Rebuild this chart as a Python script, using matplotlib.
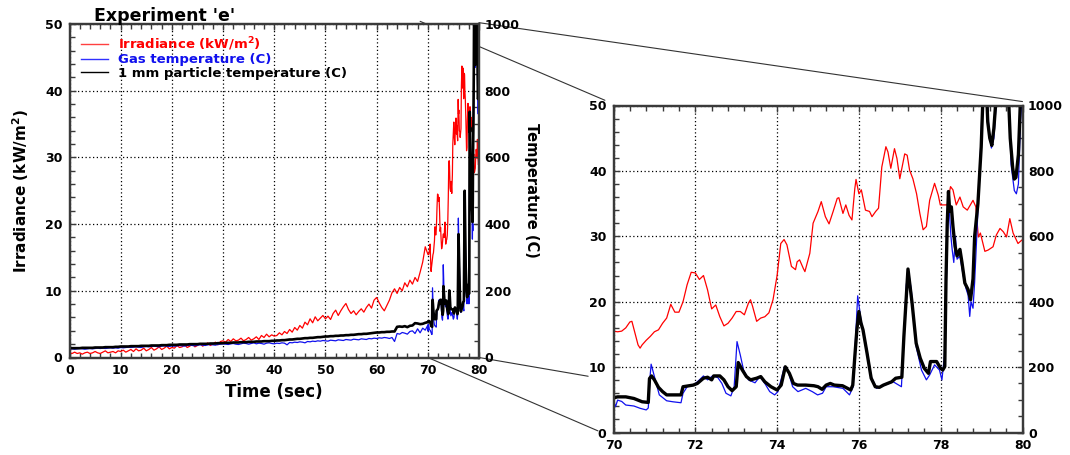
import numpy as np
import matplotlib
matplotlib.use("Agg")
import matplotlib.pyplot as plt
from matplotlib.lines import Line2D
from matplotlib.patches import ConnectionPatch
from matplotlib.ticker import MultipleLocator

plt.rcParams['font.family'] = ['DejaVu Sans']
plt.rcParams['font.weight'] = 'bold'
plt.rcParams['mathtext.default'] = 'bf'

# ---- coarse record, 0-70 s sampled every 0.5 s ----
t_coarse = np.arange(0, 70.01, 0.5)
irr_coarse = [0.7, 0.6, 0.8, 0.6, 0.7, 0.5, 0.7, 0.8, 0.6, 0.7, 0.9, 0.7, 0.6, 0.8, 1.0, 0.7, 0.8, 0.9, 0.7, 1.0, 0.9,
              1.1, 0.8, 1.0, 1.2, 0.9, 1.3, 1.0, 1.1, 1.4, 1.0, 1.2, 1.5, 1.1, 1.3, 1.6, 1.2, 1.4, 1.7, 1.3, 1.5,
              1.4, 1.8, 1.5, 1.6, 1.9, 1.5, 1.7, 2.0, 1.6, 1.8, 2.1, 1.7, 1.9, 2.2, 1.8, 2.0, 2.3, 1.9, 2.4, 2.5,
              2.3, 2.7, 2.4, 2.8, 2.5, 2.6, 2.9, 2.5, 2.7, 3.0, 2.6, 2.8, 3.1, 2.7, 3.3, 3.0, 3.5, 3.1, 3.4, 3.2,
              3.3, 3.7, 3.4, 3.9, 3.6, 4.2, 3.8, 4.5, 4.1, 4.8, 4.4, 5.3, 4.9, 5.8, 5.2, 6.1, 5.5, 5.9, 6.3, 5.8,
              6.2, 5.7, 6.6, 7.1, 6.3, 7.0, 7.6, 8.1, 7.2, 6.6, 7.0, 6.4, 6.9, 7.3, 6.8, 7.5, 8.0, 7.4, 8.6, 9.0,
              8.2, 7.5, 7.0, 7.8, 8.6, 9.7, 10.3, 9.6, 10.5, 10.0, 11.2, 10.6, 11.6, 11.0, 12.0, 11.4, 12.8, 14.3, 16.6, 15.5]
gas_coarse = [25, 26, 25, 26, 27, 26, 25, 26, 27, 26, 27, 28, 27, 28, 27, 28, 29, 28, 29, 28, 30,
              29, 30, 31, 30, 31, 32, 31, 30, 32, 33, 32, 33, 34, 33, 32, 34, 35, 34, 33, 35,
              34, 35, 36, 35, 34, 36, 37, 36, 35, 37, 38, 37, 36, 38, 39, 38, 37, 39, 40, 41,
              40, 39, 41, 42, 40, 39, 41, 43, 42, 40, 42, 44, 41, 43, 42, 40, 43, 44, 42, 41,
              43, 42, 44, 43, 38, 45, 44, 46, 45, 47, 46, 44, 48, 47, 49, 48, 50, 49, 51, 50,
              49, 52, 51, 50, 53, 52, 51, 54, 53, 52, 55, 54, 53, 56, 55, 54, 57, 56, 58, 57,
              59, 58, 60, 59, 57, 60, 48, 72, 70, 75, 73, 70, 78, 80, 72, 86, 74, 88, 82, 97]
part_coarse = [28, 28, 28, 28, 28, 29, 29, 29, 29, 29, 30, 30, 30, 30, 31, 31, 31, 31, 32, 32, 33,
               33, 33, 33, 34, 34, 34, 34, 35, 35, 35, 35, 36, 36, 36, 36, 37, 37, 37, 38, 38,
               38, 38, 39, 39, 39, 39, 40, 40, 40, 40, 41, 41, 41, 41, 42, 42, 42, 43, 43, 43,
               44, 44, 44, 45, 45, 45, 46, 46, 46, 47, 47, 47, 48, 48, 48, 49, 49, 49, 50, 50,
               51, 51, 52, 52, 53, 54, 54, 55, 56, 56, 57, 58, 58, 59, 59, 60, 61, 61, 62, 63,
               63, 64, 64, 65, 65, 66, 66, 67, 67, 68, 68, 69, 70, 70, 71, 71, 72, 73, 74, 75,
               75, 76, 76, 77, 77, 78, 78, 92, 93, 92, 94, 91, 95, 96, 103, 102, 100, 101, 104, 106]

# ---- fine record, 70-80 s: (time s, value) ----
irr_fine = [(70.1, 15.4), (70.2, 15.5), (70.3, 16.0), (70.4, 16.9), (70.45, 17.0), (70.5, 15.8), (70.6, 13.4),
            (70.65, 12.9), (70.7, 13.4), (70.8, 14.1), (70.9, 14.7), (71.0, 15.4), (71.1, 15.7), (71.2, 16.7),
            (71.3, 17.5), (71.4, 19.6), (71.5, 18.4), (71.6, 18.4), (71.7, 20.0), (71.8, 22.6), (71.9, 24.5),
            (72.0, 24.4), (72.1, 23.4), (72.2, 24.0), (72.3, 21.8), (72.4, 18.9), (72.5, 19.5), (72.6, 17.7),
            (72.7, 16.3), (72.8, 16.7), (72.9, 17.5), (73.0, 18.5), (73.1, 18.5), (73.2, 18.0), (73.3, 19.8),
            (73.35, 20.3), (73.4, 19.3), (73.5, 17.0), (73.6, 17.5), (73.7, 17.7), (73.8, 18.3), (73.9, 20.3),
            (74.0, 24.0), (74.09, 28.9), (74.17, 29.5), (74.24, 28.7), (74.35, 25.4), (74.45, 24.9), (74.49, 26.1),
            (74.55, 26.4), (74.64, 25.1), (74.68, 24.6), (74.8, 27.4), (74.88, 32.0), (75.0, 33.8), (75.08, 35.3),
            (75.18, 33.0), (75.27, 31.9), (75.37, 33.8), (75.47, 35.8), (75.51, 35.9), (75.61, 33.5), (75.68, 34.8),
            (75.76, 33.2), (75.83, 32.5), (75.9, 37.3), (75.93, 38.7), (76.0, 36.5), (76.06, 37.1), (76.16, 34.0),
            (76.26, 33.8), (76.32, 33.0), (76.41, 33.8), (76.48, 34.3), (76.56, 40.6), (76.66, 43.7), (76.71, 42.9),
            (76.78, 40.4), (76.87, 43.4), (76.93, 41.9), (77.0, 38.8), (77.12, 42.6), (77.18, 42.4), (77.24, 40.1),
            (77.32, 38.8), (77.41, 36.5), (77.49, 33.5), (77.57, 31.0), (77.65, 31.5), (77.73, 35.5), (77.85, 38.1),
            (77.94, 36.3), (77.99, 34.8), (78.06, 34.8), (78.16, 34.8), (78.24, 37.6), (78.3, 37.1), (78.38, 34.8),
            (78.47, 36.0), (78.55, 34.5), (78.65, 34.0), (78.79, 35.5), (78.86, 34.5), (78.92, 29.9), (78.97, 30.5),
            (79.08, 27.7), (79.16, 27.9), (79.28, 28.4), (79.36, 30.2), (79.45, 31.2), (79.53, 30.7), (79.61, 29.9),
            (79.69, 32.7), (79.77, 30.5), (79.89, 28.9), (79.98, 29.4)]

gas_fine = [(70.05, 79), (70.1, 99), (70.2, 95), (70.3, 84), (70.5, 81), (70.65, 74), (70.8, 69), (70.85, 75),
            (70.9, 180), (70.92, 209), (71.0, 171), (71.12, 115), (71.3, 97), (71.45, 94), (71.65, 91), (71.7, 120),
            (71.8, 140), (71.95, 145), (72.05, 155), (72.2, 173), (72.3, 161), (72.42, 173), (72.55, 168),
            (72.65, 150), (72.75, 120), (72.87, 112), (72.95, 140), (73.02, 278), (73.1, 237), (73.18, 191),
            (73.3, 161), (73.46, 152), (73.58, 171), (73.7, 150), (73.82, 125), (73.94, 115), (74.02, 125),
            (74.18, 201), (74.26, 191), (74.38, 140), (74.51, 125), (74.7, 135), (74.86, 125), (74.99, 115),
            (75.11, 120), (75.2, 140), (75.37, 140), (75.61, 135), (75.77, 115), (75.86, 140), (75.97, 418),
            (76.05, 345), (76.18, 263), (76.3, 171), (76.43, 135), (76.63, 145), (76.84, 155), (77.04, 140),
            (77.16, 452), (77.21, 493), (77.28, 437), (77.4, 263), (77.53, 191), (77.65, 161), (77.73, 176),
            (77.85, 207), (77.97, 191), (78.03, 161), (78.09, 232), (78.14, 470), (78.17, 650), (78.2, 700),
            (78.25, 600), (78.28, 560), (78.32, 520), (78.36, 600), (78.4, 530), (78.47, 540), (78.55, 480),
            (78.62, 440), (78.67, 420), (78.71, 355), (78.74, 400), (78.79, 380), (78.83, 460), (78.9, 650),
            (78.97, 850), (79.03, 1050), (79.13, 1050), (79.18, 920), (79.24, 870), (79.3, 900), (79.38, 1050),
            (79.66, 1050), (79.72, 820), (79.8, 740), (79.85, 730), (79.9, 760), (79.95, 950), (80.0, 1050)]

part_fine = [(70.1, 109), (70.3, 109), (70.5, 104), (70.7, 94), (70.85, 92), (70.88, 165), (70.93, 173),
             (71.0, 161), (71.1, 138), (71.2, 125), (71.3, 115), (71.5, 115), (71.65, 115), (71.7, 140),
             (71.8, 142), (71.95, 145), (72.05, 150), (72.2, 166), (72.3, 169), (72.4, 161), (72.45, 173),
             (72.6, 173), (72.7, 161), (72.8, 140), (72.9, 128), (73.0, 140), (73.05, 214), (73.15, 191),
             (73.25, 171), (73.35, 161), (73.5, 166), (73.6, 171), (73.7, 155), (73.85, 140), (74.0, 130),
             (74.1, 145), (74.2, 201), (74.3, 181), (74.4, 150), (74.5, 145), (74.7, 145), (74.9, 143),
             (75.0, 140), (75.1, 132), (75.2, 145), (75.3, 150), (75.4, 145), (75.6, 143), (75.8, 130),
             (75.85, 145), (75.9, 232), (75.95, 314), (76.0, 370), (76.05, 335), (76.1, 314), (76.2, 242),
             (76.3, 166), (76.4, 140), (76.5, 138), (76.6, 145), (76.8, 155), (76.9, 166), (77.05, 169),
             (77.1, 294), (77.15, 396), (77.2, 500), (77.25, 447), (77.3, 396), (77.4, 273), (77.5, 227),
             (77.6, 196), (77.7, 181), (77.75, 217), (77.9, 217), (78.0, 196), (78.05, 191), (78.1, 202),
             (78.13, 470), (78.16, 640), (78.19, 737), (78.22, 676), (78.26, 690), (78.3, 630), (78.35, 570),
             (78.4, 540), (78.47, 560), (78.52, 520), (78.59, 457), (78.67, 437), (78.73, 406), (78.79, 470),
             (78.83, 600), (78.91, 700), (78.99, 873), (79.04, 1050), (79.12, 1050), (79.15, 950), (79.2, 900),
             (79.25, 878), (79.3, 930), (79.37, 1050), (79.65, 1050), (79.7, 900), (79.76, 810), (79.8, 775),
             (79.84, 780), (79.9, 850), (79.96, 1050), (80.0, 1050)]


def series(coarse, fine):
    tf, vf = zip(*fine)
    return np.concatenate([t_coarse, tf]), np.concatenate([coarse, vf])


t_irr, irr = series(irr_coarse, irr_fine)
t_gas, gas = series(gas_coarse, gas_fine)
t_part, part = series(part_coarse, part_fine)

RED = '#ff0000'
BLUE = '#1010ee'
SPINE = '#3a3a3a'

fig = plt.figure(figsize=(10.70, 4.55), dpi=100)
axL = fig.add_axes([69.5 / 1070, (455 - 357.5) / 455, 409.5 / 1070, 333.5 / 455])
axR = fig.add_axes([613.5 / 1070, (455 - 432.5) / 455, 409 / 1070, 327 / 455])


def style(ax, xlim, xmajor, xminor, thick):
    ax.set_xlim(*xlim)
    ax.set_ylim(0, 50)
    ax.xaxis.set_major_locator(MultipleLocator(xmajor))
    ax.xaxis.set_minor_locator(MultipleLocator(xminor))
    ax.yaxis.set_major_locator(MultipleLocator(10))
    ax.yaxis.set_minor_locator(MultipleLocator(2))
    ax.grid(which='major', color='black', linestyle=(0, (1, 2)), linewidth=0.9)
    ax.set_axisbelow(True)
    ax.tick_params(which='both', direction='in', top=True, right=False, color=SPINE,
                   labelsize=9, pad=5)
    ax.tick_params(which='major', length=4.5, width=1)
    ax.tick_params(which='minor', length=3.5, width=1)
    for lab in ax.get_xticklabels() + ax.get_yticklabels():
        lab.set_fontweight('bold')
    ax.plot(t_irr, irr, color=RED, lw=0.9)
    tw = ax.twinx()
    tw.set_ylim(0, 1000)
    tw.yaxis.set_major_locator(MultipleLocator(200))
    tw.yaxis.set_minor_locator(MultipleLocator(50))
    tw.tick_params(which='both', direction='in', right=True, color=SPINE, labelsize=9, pad=4)
    tw.tick_params(which='major', length=4.5, width=1)
    tw.tick_params(which='minor', length=3.5, width=1)
    tw.plot(t_gas, gas, color=BLUE, lw=0.9)
    tw.plot(t_part, part, color='black', lw=thick)
    for a in (ax, tw):
        for sp in a.spines.values():
            sp.set_color(SPINE)
            sp.set_linewidth(1.6)
    for lab in tw.get_yticklabels():
        lab.set_fontweight('bold')
    return tw


twL = style(axL, (0, 80), 10, 2, 1.9)
twR = style(axR, (70, 80), 2, 0.4, 2.4)

axL.set_xlabel('Time (sec)', fontsize=12, fontweight='bold', labelpad=4)
axL.set_ylabel('Irradiance (kW/m$^2$)', fontsize=11, fontweight='bold', labelpad=10)
twL.set_ylabel('Temperature (C)', fontsize=10.5, fontweight='bold', rotation=270, labelpad=14)

fig.text(94 / 1070, 1 - 21 / 455, "Experiment 'e'", fontsize=12.5, fontweight='bold', va='baseline')

handles = [Line2D([], [], color='#ff4040', lw=1.0),
           Line2D([], [], color='#3030ff', lw=1.0),
           Line2D([], [], color='black', lw=1.0)]
labels = ['Irradiance (kW/m$^2$)', 'Gas temperature (C)', '1 mm particle temperature (C)']
leg = axL.legend(handles, labels, loc='upper left', bbox_to_anchor=(0.027, 0.967), frameon=False,
                 handlelength=2.1, handletextpad=0.7, labelspacing=0.05,
                 borderpad=0.0, borderaxespad=0.0, prop={'weight': 'bold', 'size': 9.5})
for txt, c in zip(leg.get_texts(), [RED, BLUE, 'black']):
    txt.set_color(c)

# zoom guide lines from the 70-80 s window to the enlarged panel
guides = [((68.5, 50.4), (69.79, 50.8)),
          ((80.0, 50.2), (80.0, 50.6)),
          ((70.0, 0.0), (69.62, 0.25)),
          ((80.0, 0.0), (69.38, 8.6))]
for a, b in guides:
    con = ConnectionPatch(xyA=a, coordsA=axL.transData, xyB=b, coordsB=axR.transData,
                          color='#333333', lw=0.8, zorder=-1)
    fig.add_artist(con)

fig.savefig('out.png', dpi=100)
